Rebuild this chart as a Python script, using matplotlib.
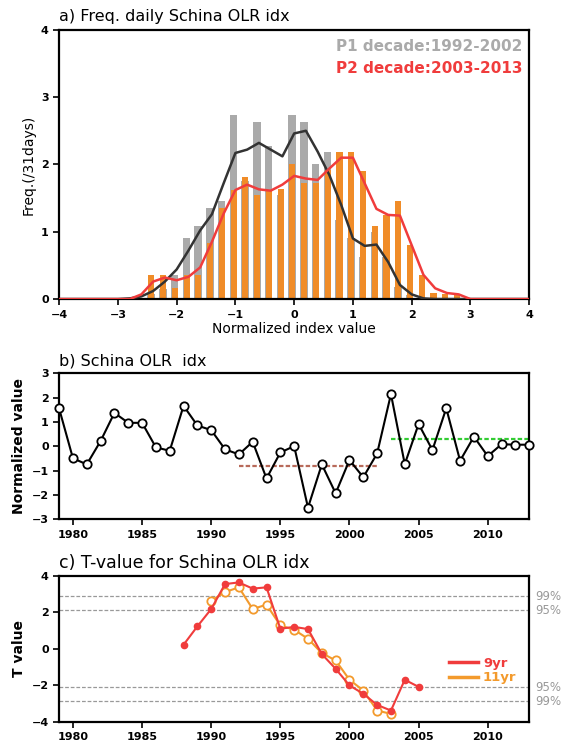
import numpy as np
import matplotlib
matplotlib.use("Agg")
import matplotlib.pyplot as plt
from matplotlib.lines import Line2D

plt.rcParams['font.family'] = ['DejaVu Sans']

# ---- panel a: frequency of daily index ----
bin_centers = [-2.4, -2.2, -2.0, -1.8, -1.6, -1.4, -1.2, -1.0, -0.8, -0.6, -0.4, -0.2, 0.0,
               0.2, 0.4, 0.6, 0.8, 1.0, 1.2, 1.4, 1.6, 1.8, 2.0, 2.2, 2.4, 2.6, 2.8]
freq_p1 = [0.08, 0.15, 0.36, 0.90, 1.08, 1.36, 1.45, 2.73, 1.75, 2.63, 2.27, 1.55, 2.73,
           2.63, 2.00, 2.18, 1.17, 0.90, 0.63, 1.00, 0.63, 0.18, 0.06, 0.0, 0.0, 0.0, 0.0]
freq_p2 = [0.36, 0.36, 0.17, 0.36, 0.36, 0.83, 1.36, 1.62, 1.81, 1.54, 1.60, 1.63, 2.00,
           1.72, 1.72, 1.92, 2.18, 2.18, 1.90, 1.08, 1.25, 1.45, 0.80, 0.36, 0.09, 0.08, 0.07]

curve_x = [-4.0, -3.0, -2.8, -2.6, -2.4, -2.2, -2.0, -1.8, -1.6, -1.4, -1.2, -1.0, -0.8, -0.6,
           -0.4, -0.2, 0.0, 0.2, 0.4, 0.6, 0.8, 1.0, 1.2, 1.4, 1.6, 1.8, 2.0, 2.2, 2.4, 2.6,
           2.8, 3.0, 4.0]
curve_p1 = [0, 0, 0.01, 0.04, 0.12, 0.26, 0.44, 0.72, 1.02, 1.26, 1.72, 2.17, 2.22, 2.32,
            2.22, 2.12, 2.46, 2.50, 2.19, 1.84, 1.40, 0.90, 0.79, 0.81, 0.55, 0.21, 0.07,
            0.01, 0, 0, 0, 0, 0]
curve_p2 = [0, 0, 0, 0.07, 0.26, 0.32, 0.28, 0.33, 0.47, 0.85, 1.27, 1.62, 1.70, 1.63,
            1.61, 1.70, 1.83, 1.79, 1.77, 1.94, 2.10, 2.10, 1.72, 1.34, 1.25, 1.24, 0.80,
            0.36, 0.16, 0.09, 0.07, 0, 0]

# ---- panel b: yearly normalized index ----
years = list(range(1979, 2014))
olr_idx = [1.56, -0.49, -0.74, 0.22, 1.38, 0.97, 0.97, -0.04, -0.18, 1.67, 0.86, 0.67,
           -0.12, -0.33, 0.19, -1.32, -0.25, 0.01, -2.52, -0.74, -1.93, -0.56, -1.27,
           -0.29, 2.15, -0.73, 0.92, -0.15, 1.57, -0.59, 0.40, -0.40, 0.09, 0.07, 0.07]
p1_years = (1992, 2002)
p2_years = (2003, 2013)

# ---- panel c: sliding t-test ----
t9_years = list(range(1988, 2006))
t9 = [0.22, 1.23, 2.18, 3.55, 3.64, 3.30, 3.37, 1.10, 1.20, 1.08, -0.29, -1.10, -2.01,
      -2.47, -3.08, -3.39, -1.70, -2.09]
t11_years = list(range(1990, 2004))
t11 = [2.64, 3.11, 3.37, 2.18, 2.42, 1.28, 1.04, 0.55, -0.24, -0.64, -1.70, -2.29,
       -3.39, -3.57]
t_crit = {'95%': 2.101, '99%': 2.878}

gray = '#aaaaaa'
orange = '#f08c28'
red = '#f03c3c'
orange2 = '#f39a2c'

fig = plt.figure(figsize=(5.63, 7.44), dpi=100)

tick_kw = dict(direction='out', length=4, width=1.2, labelsize=8)


def style(ax):
    for s in ax.spines.values():
        s.set_linewidth(1.6)
    ax.tick_params(**tick_kw)
    for lab in ax.get_xticklabels() + ax.get_yticklabels():
        lab.set_fontweight('bold')


# panel a
ax1 = fig.add_axes([0.105, 0.598, 0.835, 0.362])
bc = np.array(bin_centers)
ax1.bar(bc - 0.035, freq_p1, width=0.13, color=gray, zorder=1)
ax1.bar(bc - 0.03, freq_p2, width=0.105, color=orange, zorder=2)
ax1.plot(curve_x, curve_p1, color='#333333', lw=1.8, zorder=3)
ax1.plot(curve_x, curve_p2, color=red, lw=1.8, zorder=4)
ax1.set_xlim(-4, 4)
ax1.set_ylim(0, 4)
ax1.set_xticks(range(-4, 5))
ax1.set_yticks(range(0, 5))
style(ax1)
ax1.set_xlabel('Normalized index value', fontsize=10, labelpad=2)
ax1.set_ylabel('Freq.(/31days)', fontsize=10)
ax1.set_title('a) Freq. daily Schina OLR idx', loc='left', fontsize=11.5, pad=6)
ax1.text(0.985, 0.965, 'P1 decade:1992-2002', transform=ax1.transAxes, ha='right',
         va='top', color=gray, fontsize=11, fontweight='bold')
ax1.text(0.985, 0.885, 'P2 decade:2003-2013', transform=ax1.transAxes, ha='right',
         va='top', color=red, fontsize=11, fontweight='bold')

# panel b
ax2 = fig.add_axes([0.105, 0.302, 0.835, 0.196])
ax2.plot(years, olr_idx, color='black', lw=1.5, marker='o', ms=6,
         mfc='white', mec='black', mew=1.3, zorder=3, clip_on=False)
yr = np.array(years)
val = np.array(olr_idx)
m1 = (yr >= p1_years[0]) & (yr <= p1_years[1])
m2 = (yr >= p2_years[0]) & (yr <= p2_years[1])
ax2.plot(p1_years, [val[m1].mean()] * 2, color='#b86a5a', lw=1.6, ls=(0, (2, 1)), zorder=2)
ax2.plot(p2_years, [val[m2].mean()] * 2, color='#33cc33', lw=1.6, ls=(0, (2, 1)), zorder=2)
ax2.set_xlim(1979, 2013)
ax2.set_ylim(-3, 3)
ax2.set_xticks(range(1980, 2011, 5))
ax2.set_yticks(range(-3, 4))
style(ax2)
ax2.set_ylabel('Normalized value', fontsize=10, fontweight='bold')
ax2.set_title('b) Schina OLR  idx', loc='left', fontsize=11.5, pad=6)

# panel c
ax3 = fig.add_axes([0.105, 0.030, 0.835, 0.196])
for lab, v in t_crit.items():
    for sgn in (1, -1):
        ax3.axhline(sgn * v, color='#999999', lw=0.9, ls=(0, (3, 1.5)), zorder=1)
        ax3.text(1.012, sgn * v, lab, transform=ax3.get_yaxis_transform(), ha='left',
                 va='center', color='#999999', fontsize=8.5, clip_on=False)
ax3.plot(t11_years, t11, color=orange2, lw=1.5, marker='o', ms=6, mfc='white',
         mec=orange2, mew=1.3, zorder=2)
ax3.plot(t9_years, t9, color=red, lw=1.5, marker='o', ms=4.5, mfc=red, mec=red, zorder=3)
ax3.set_xlim(1979, 2013)
ax3.set_ylim(-4, 4)
ax3.set_xticks(range(1980, 2011, 5))
ax3.set_yticks(range(-4, 5, 2))
style(ax3)
ax3.set_ylabel('T value', fontsize=10, fontweight='bold')
ax3.set_title('c) T-value for Schina OLR idx', loc='left', fontsize=12.5, pad=6)
handles = [Line2D([], [], color=red, lw=2.5), Line2D([], [], color=orange2, lw=2.5)]
leg = ax3.legend(handles, ['9yr', '11yr'], loc='center left', bbox_to_anchor=(0.83, 0.35),
                 frameon=False, handlelength=2.15, labelspacing=0.1, handletextpad=0.4,
                 borderaxespad=0, borderpad=0, prop={'size': 9.5, 'weight': 'bold'})
for txt, c in zip(leg.get_texts(), [red, orange2]):
    txt.set_color(c)

fig.savefig('out.png', dpi=100)
